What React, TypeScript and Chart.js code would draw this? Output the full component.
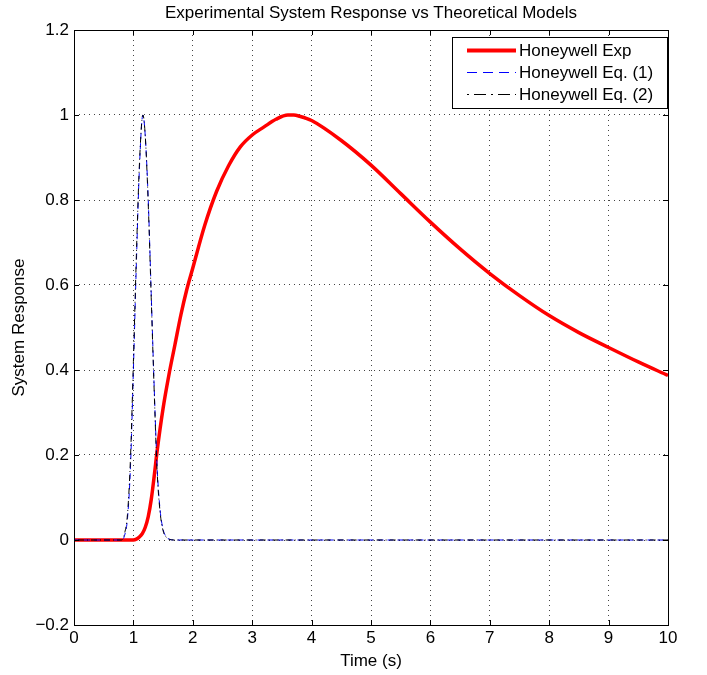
import React, { useEffect, useRef } from "react";
import { Chart, registerables } from "chart.js";

Chart.register(...registerables);

const chartTitle = "Experimental System Response vs Theoretical Models";
const xAxisTitle = "Time (s)";
const yAxisTitle = "System Response";
const seriesNames = ["Honeywell Exp", "Honeywell Eq. (1)", "Honeywell Eq. (2)"];

const expTime = [0, 0.9, 1.0, 1.05, 1.1, 1.15, 1.2, 1.25, 1.3, 1.35, 1.4, 1.5, 1.6, 1.7, 1.8, 1.9, 2.0, 2.2, 2.4, 2.6, 2.8, 3.0, 3.2, 3.4, 3.6, 3.7, 3.8, 4.0, 4.5, 5.0, 5.5, 6.0, 6.5, 7.0, 7.5, 8.0, 8.5, 9.0, 9.5, 10];
const expValues = [0, 0, 0, 0.002, 0.007, 0.015, 0.03, 0.055, 0.095, 0.15, 0.21, 0.31, 0.39, 0.46, 0.53, 0.59, 0.64, 0.74, 0.82, 0.88, 0.925, 0.953, 0.972, 0.99, 1.0, 1.0, 0.997, 0.987, 0.94, 0.882, 0.815, 0.748, 0.685, 0.627, 0.575, 0.528, 0.488, 0.453, 0.419, 0.387];

const eqTime = [0, 0.8, 0.85, 0.9, 0.95, 1.0, 1.05, 1.1, 1.16, 1.2, 1.25, 1.3, 1.35, 1.4, 1.45, 1.5, 1.55, 1.6, 1.7, 10];
const eq1Values = [0, 0, 0.01, 0.05, 0.17, 0.4, 0.65, 0.87, 1.0, 0.95, 0.8, 0.58, 0.36, 0.17, 0.07, 0.025, 0.008, 0.002, 0, 0];
const eq2Values = [0, 0, 0.015, 0.06, 0.19, 0.42, 0.67, 0.88, 1.0, 0.95, 0.79, 0.57, 0.35, 0.16, 0.065, 0.022, 0.007, 0.002, 0, 0];

const xTicks = [0, 1, 2, 3, 4, 5, 6, 7, 8, 9, 10];
const yTicks = [-0.2, 0, 0.2, 0.4, 0.6, 0.8, 1.0, 1.2];

const FONT = "'Liberation Sans', Arial, Helvetica, sans-serif";
const FS = 17;

const toPoints = (xs: number[], ys: number[]) => xs.map((x, i) => ({ x, y: ys[i] }));

const decorPlugin = {
  id: "decor",
  afterDraw(chart: any) {
    const { ctx, chartArea } = chart;
    const { left, right, top, bottom } = chartArea;
    const xs = chart.scales.x;
    const ys = chart.scales.y;
    ctx.save();
    ctx.strokeStyle = "#000";
    ctx.lineWidth = 1;
    ctx.setLineDash([]);
    ctx.strokeRect(Math.round(left) + 0.5, Math.round(top) + 0.5, Math.round(right - left), Math.round(bottom - top));
    const tl = 5;
    ctx.beginPath();
    xTicks.forEach((t) => {
      const px = Math.round(xs.getPixelForValue(t)) + 0.5;
      ctx.moveTo(px, bottom);
      ctx.lineTo(px, bottom - tl);
      ctx.moveTo(px, top);
      ctx.lineTo(px, top + tl);
    });
    yTicks.forEach((t) => {
      const py = Math.round(ys.getPixelForValue(t)) + 0.5;
      ctx.moveTo(left, py);
      ctx.lineTo(left + tl, py);
      ctx.moveTo(right, py);
      ctx.lineTo(right - tl, py);
    });
    ctx.stroke();

    ctx.fillStyle = "#000";
    ctx.font = `${FS}px ${FONT}`;
    ctx.textAlign = "center";
    ctx.textBaseline = "middle";
    ctx.fillText(chartTitle, (left + right) / 2, 13);
    ctx.fillText(xAxisTitle, (left + right) / 2, 661);
    ctx.save();
    ctx.translate(19, (top + bottom) / 2);
    ctx.rotate(-Math.PI / 2);
    ctx.fillText(yAxisTitle, 0, 0);
    ctx.restore();

    const lx = 452, ly = 37, lw = 215, lh = 71;
    ctx.fillStyle = "#fff";
    ctx.fillRect(lx, ly, lw, lh);
    ctx.strokeStyle = "#000";
    ctx.lineWidth = 1;
    ctx.strokeRect(lx + 0.5, ly + 0.5, lw, lh);
    const rows = [
      { color: "#ff0000", width: 4, dash: [] as number[] },
      { color: "#0000ff", width: 1, dash: [10, 6] },
      { color: "#000000", width: 1, dash: [2, 5, 12, 5] },
    ];
    rows.forEach((r, i) => {
      const y = ly + 13.5 + i * 22;
      ctx.beginPath();
      ctx.strokeStyle = r.color;
      ctx.lineWidth = r.width;
      ctx.setLineDash(r.dash);
      ctx.moveTo(467, y);
      ctx.lineTo(516, y);
      ctx.stroke();
      ctx.setLineDash([]);
      ctx.fillStyle = "#000";
      ctx.font = `${FS}px ${FONT}`;
      ctx.textAlign = "left";
      ctx.textBaseline = "middle";
      ctx.fillText(seriesNames[i], 519, y + 0.5);
    });
    ctx.restore();
  },
};

export default function App() {
  const ref = useRef<HTMLCanvasElement | null>(null);
  useEffect(() => {
    document.body.style.margin = "0";
    const canvas = ref.current;
    if (!canvas) return;
    const gridCfg = { color: "#444", lineWidth: 1, drawTicks: false };
    const chart = new Chart(canvas, {
      type: "line",
      data: {
        datasets: [
          {
            label: seriesNames[0],
            data: toPoints(expTime, expValues),
            borderColor: "#ff0000",
            borderWidth: 3.5,
            pointRadius: 0,
            cubicInterpolationMode: "monotone",
            order: 2,
          },
          {
            label: seriesNames[1],
            data: toPoints(eqTime, eq1Values),
            borderColor: "#0000ff",
            borderWidth: 1,
            borderDash: [6, 4],
            pointRadius: 0,
            cubicInterpolationMode: "monotone",
            order: 1,
          },
          {
            label: seriesNames[2],
            data: toPoints(eqTime, eq2Values),
            borderColor: "#000000",
            borderWidth: 1,
            borderDash: [1, 3, 6, 3],
            pointRadius: 0,
            cubicInterpolationMode: "monotone",
            order: 0,
          },
        ],
      },
      options: {
        responsive: false,
        animation: false,
        devicePixelRatio: 1,
        layout: { padding: { top: 30, right: 39, left: 0, bottom: 0 } },
        plugins: {
          legend: { display: false },
          title: { display: false },
          tooltip: { enabled: false },
        },
        scales: {
          x: {
            type: "linear",
            min: 0,
            max: 10,
            afterFit: (s: any) => {
              s.height = 50;
            },
            afterBuildTicks: (s: any) => {
              s.ticks = xTicks.map((v) => ({ value: v }));
            },
            border: { display: false, dash: [1, 4] },
            grid: gridCfg,
            ticks: {
              padding: 3,
              color: "#000",
              font: { family: FONT, size: FS },
              maxRotation: 0,
              autoSkip: false,
              callback: (v: any) => String(v),
            },
          },
          y: {
            type: "linear",
            min: -0.2,
            max: 1.2,
            afterFit: (s: any) => {
              s.width = 74;
            },
            afterBuildTicks: (s: any) => {
              s.ticks = yTicks.map((v) => ({ value: v }));
            },
            border: { display: false, dash: [1, 4] },
            grid: gridCfg,
            ticks: {
              padding: 5,
              color: "#000",
              font: { family: FONT, size: FS },
              autoSkip: false,
              callback: (v: any) => {
                const n = Math.round(Number(v) * 10) / 10;
                return n < 0 ? "\u2212" + String(-n) : String(n);
              },
            },
          },
        },
      },
      plugins: [decorPlugin],
    } as any);
    return () => chart.destroy();
  }, []);
  return <canvas ref={ref} width={707} height={675} style={{ display: "block" }} />;
}
